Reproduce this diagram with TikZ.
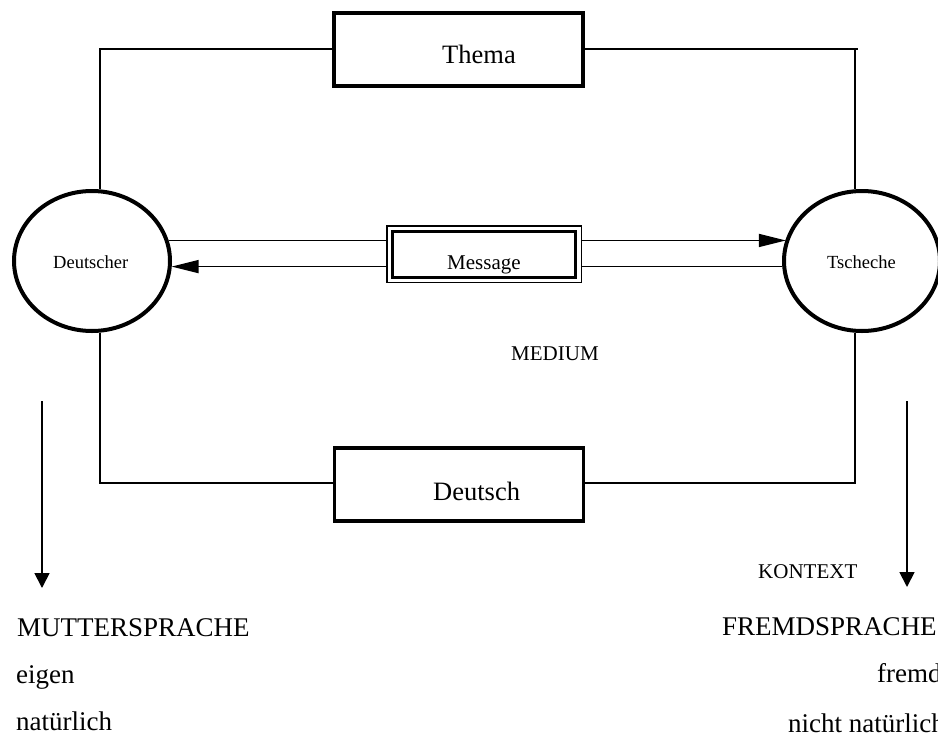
\documentclass[tikz,border=0pt]{standalone}
\usepackage{fontspec}
\setmainfont{Liberation Serif}
\usetikzlibrary{arrows.meta,shapes.geometric}
\begin{document}
\begin{tikzpicture}[x=1pt,y=-1pt,
  thinline/.style={line width=1.6pt},
  boxnode/.style={draw,line width=3.5pt,minimum width=249pt,minimum height=73pt,inner sep=0pt},
  person/.style={draw,ellipse,line width=4pt,minimum width=156pt,minimum height=140pt,inner sep=0pt},
  lbl/.style={inner sep=0pt,anchor=base west},
  big/.style={font=\fontsize{26.5}{30}\selectfont},
  bottom/.style={font=\fontsize{27}{30}\selectfont},
  mid/.style={font=\fontsize{21}{24}\selectfont},
  small/.style={font=\fontsize{18.5}{22}\selectfont},
  bigtip/.style={-{Triangle[length=27pt,width=13pt]}},
  downtip/.style={-{Triangle[length=15pt,width=15pt]}}]
\useasboundingbox (0,0) rectangle (938,737);

% boxes and persons
\node[boxnode] (thema) at (458.5,49.5) {};
\node[boxnode] (deutsch) at (459,484.5) {};
\node[person] (deu) at (92,261) {};
\node[person] (tsch) at (862,261) {};
\node[draw,line width=1.5pt,minimum width=194.5pt,minimum height=56.5pt,inner sep=0pt] (msgo) at (484,254) {};
\node[draw,line width=3pt,minimum width=183pt,minimum height=45.5pt,inner sep=0pt] (msgi) at (484,254.25) {};

% texts
\node[lbl,big] (thematxt) at (442,63) {Thema};
\node[lbl,big] (deutschtxt) at (433,500) {Deutsch};
\node[lbl,mid] (msgtxt) at (447,269) {Message};
\node[lbl,small] (deutxt) at (53,268) {Deutscher};
\node[lbl,small] (tschtxt) at (827,268) {Tscheche};
\node[lbl,mid] (medium) at (511,360) {MEDIUM};
\node[lbl,mid] (kontext) at (758,578) {KONTEXT};
\node[lbl,bottom] (mutter) at (17,636) {MUTTERSPRACHE};
\node[lbl,bottom] (eigen) at (16,683) {eigen};
\node[lbl,bottom] (nat) at (16,730) {natürlich};
\node[lbl,bottom] (fremdspr) at (722,635) {FREMDSPRACHE};
\node[lbl,bottom] (fremd) at (877,682) {fremd};
\node[lbl,bottom] (nichtnat) at (788,732) {nicht natürlich};

% frame
\coordinate (tl) at (100,49);
\coordinate (tr) at (855,49);
\coordinate (trx) at (858,49);
\coordinate (bl) at (100,483);
\coordinate (br) at (855,483);
\draw[thinline] (thema.west |- tl) -- (tl) -- (tl |- deu.north);
\draw[thinline] (thema.east |- tr) -- (trx);
\draw[thinline] (tr) -- (tr |- tsch.north);
\draw[thinline] (bl |- deu.south) -- (bl) -- (deutsch.west |- bl);
\draw[thinline] (br |- tsch.south) -- (br) -- (deutsch.east |- br);

% message lines
\draw[thinline] (deu.15.5) -- (deu.15.5 -| msgo.west);
\draw[thinline,bigtip] (msgo.east |- deu.15.5) -- (deu.15.5 -| tsch.164.5);
\draw[thinline] (tsch.184.3) -- (tsch.184.3 -| msgo.east);
\draw[thinline,bigtip] (msgo.west |- tsch.184.3) -- (tsch.184.3 -| deu.355.7);

% down arrows
\coordinate (la1) at (42,401);
\coordinate (la2) at (42,588);
\coordinate (ra1) at (907,401);
\coordinate (ra2) at (907,587);
\draw[line width=1.8pt,downtip] (la1) -- (la2);
\draw[line width=1.8pt,downtip] (ra1) -- (ra2);
\end{tikzpicture}
\end{document}
